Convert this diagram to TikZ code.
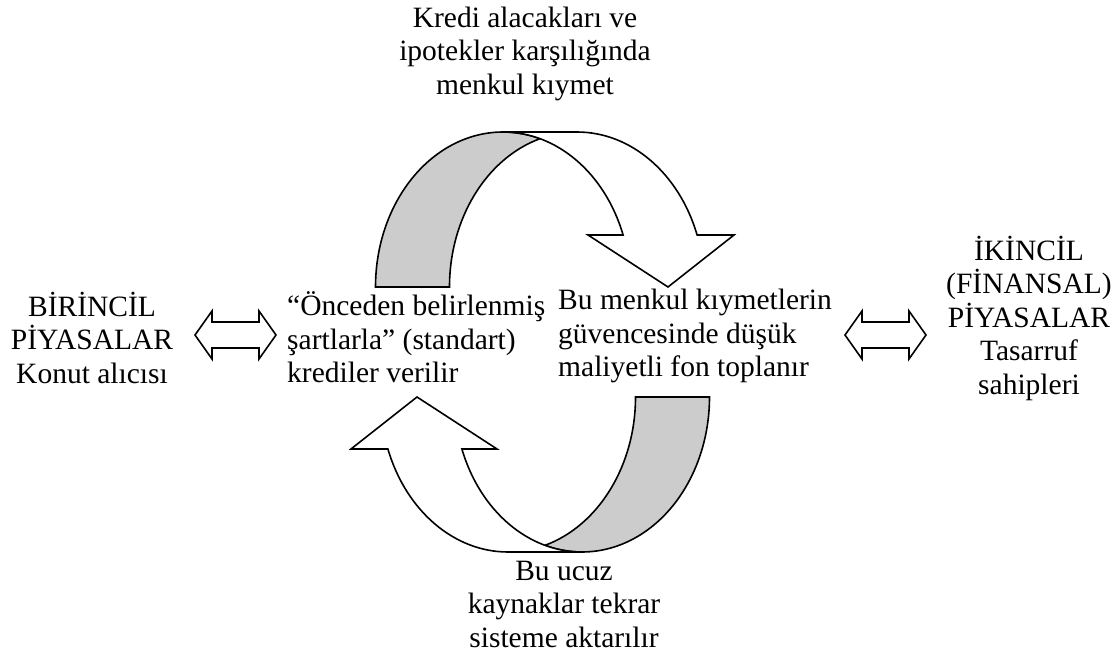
\documentclass[tikz,border=0pt]{standalone}
\usepackage{fontspec}
\setmainfont{Liberation Serif}
% curved arrow: shaded back strip, then the white front strip with its head
\newcommand{\curvedstrip}{%
  \path[band] (375.5,370)
    arc[start angle=180, end angle=73.13, x radius=127.5, y radius=155]
    arc[start angle=106.87, end angle=180, x radius=127.5, y radius=155] -- cycle;
  \path[face] (623.1,422)
    arc[start angle=19.6, end angle=90, x radius=127.5, y radius=155]
    -- (577,525)
    arc[start angle=90, end angle=19.6, x radius=127.5, y radius=155]
    -- (734,422) -- (668,370) -- (588,422) -- cycle;
}
\begin{document}
\begin{tikzpicture}[x=1pt,y=1pt,
  outline/.style={draw=black, line width=1.6pt, line join=miter},
  band/.style={outline, fill=black!20},
  face/.style={outline, fill=white},
  txt/.style={font=\fontsize{29.5}{33.5}\selectfont, inner sep=0pt, align=center},
  dblarrow/.pic={
    \path[face] (-40.5,0) -- (-23.5,24) -- (-23.5,13) -- (23.5,13) -- (23.5,24)
      -- (40.5,0) -- (23.5,-24) -- (23.5,-13) -- (-23.5,-13) -- (-23.5,-24) -- cycle;
  }]
\useasboundingbox (0,0) rectangle (1120,657);

% the two curved arrows forming the cycle
\begin{scope}
  \curvedstrip
\end{scope}
\begin{scope}[rotate around={180:(542.5,315)}]
  \curvedstrip
\end{scope}

% text blocks
\node[txt] (top) at (525,603.3) {Kredi alacakları ve\\ipotekler karşılığında\\menkul kıymet};
\node[txt] (primary) at (92,319.2) {BİRİNCİL\\PİYASALAR\\Konut alıcısı};
\node[txt, align=left, anchor=west] (credit) at (287,319.6) {“Önceden belirlenmiş\\şartlarla” (standart)\\krediler verilir};
\node[txt, align=left, anchor=west] (funds) at (558,320.75) {Bu menkul kıymetlerin\\güvencesinde düşük\\maliyetli fon toplanır};
\node[txt] (secondary) at (1029,338.7) {İKİNCİL\\(FİNANSAL)\\PİYASALAR\\Tasarruf\\sahipleri};
\node[txt] (bottom) at (564,53) {Bu ucuz\\kaynaklar tekrar\\sisteme aktarılır};

% two-way links to the markets
\pic at (235.5,322) {dblarrow};
\pic at (885.5,322) {dblarrow};
\end{tikzpicture}
\end{document}
